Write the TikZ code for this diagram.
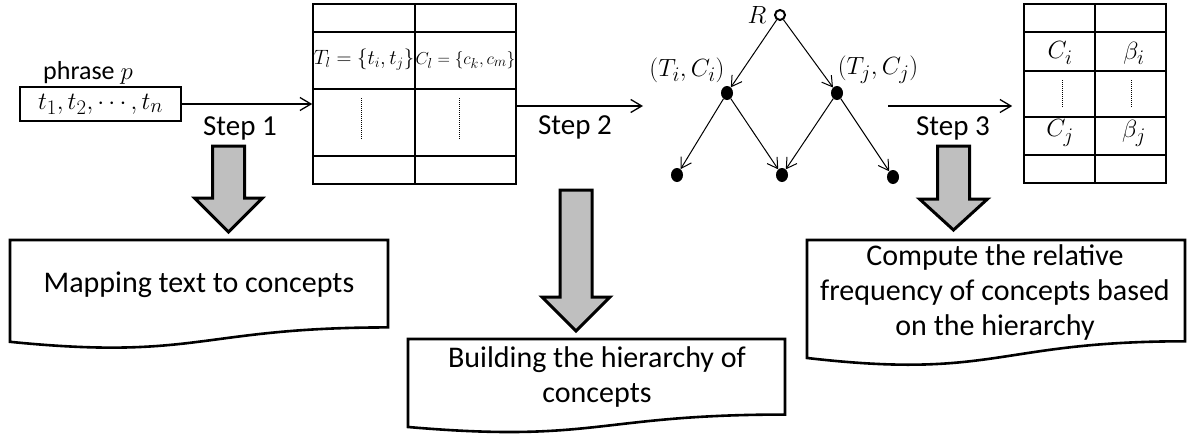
\documentclass[tikz,border=0pt]{standalone}
\usepackage{fontspec}
\setmainfont{Carlito}
\usetikzlibrary{shapes.geometric, arrows.meta, positioning, calc}
\tikzset{
	arr/.style={-{Straight Barb[length=11pt, width=13pt]}, line width=1.3pt},
	treearr/.style={-{Straight Barb[length=10pt, width=12pt]}, line width=1pt},
	tline/.style={line width=1.6pt},
	tabbox/.style={rectangle, draw, line width=1.6pt, inner sep=0pt},
	bigarrow/.style={draw, line width=3pt, fill=gray!50, line join=miter},
	doc/.style={draw, line width=2.6pt, fill=white},
	leaf/.style={ellipse, fill=black, inner sep=0pt, minimum width=12pt, minimum height=14pt}
}

\begin{document}
\begin{tikzpicture}[
        x=1pt, y=-1pt,
        steplabel/.style={font=\fontsize{29}{34}\selectfont},
        doctext/.style={font=\fontsize{30}{35}\selectfont, align=center},
        mathbig/.style={font=\fontsize{30}{34}\selectfont}
    ]
        \useasboundingbox (0,0) rectangle (1194,437);

        % input phrase
        \node[draw, line width=1.5pt, minimum width=161pt, minimum height=34pt, inner sep=0pt, mathbig] (phrase) at (100.5,104) {$t_1, t_2, \cdots, t_n$};
        \node[font=\fontsize{26}{30}\selectfont] (phraselbl) at (88,73) {phrase $p$};

        % first table
        \node[tabbox, minimum width=203pt, minimum height=180pt] (tabA) at (414.5,94) {};
        \foreach \y in {32,89,156}
            \draw[tline] (313,\y) -- (516,\y);
        \draw[tline] (415,4) -- (415,184);
        \node[font=\fontsize{21}{24}\selectfont, inner sep=0pt] (tl) at (364,60) {$T_l = \{t_i, t_j\}$};
        \node[font=\fontsize{19}{22}\selectfont, inner sep=0pt] (cl) at (465.5,60) {$C_l = \{c_k, c_m\}$};
        \draw[densely dotted, line width=1pt] (361,98) -- (361,140);
        \draw[densely dotted, line width=1pt] (459,98) -- (459,140);

        % hierarchy
        \node[circle, draw, line width=2pt, inner sep=0pt, minimum size=10pt] (root) at (780,15) {};
        \node[font=\fontsize{28}{32}\selectfont] (rlbl) at (757,15) {$R$};
        \node[leaf] (ci) at (727,93) {};
        \node[leaf] (cj) at (837,93) {};
        \node[leaf] (la) at (677,175) {};
        \node[leaf] (lb) at (782,175) {};
        \node[leaf] (lc) at (893,177) {};
        \node[mathbig] (cilbl) at (687,70) {$(T_i, C_i)$};
        \node[mathbig] (cjlbl) at (878,70) {$(T_j, C_j)$};
        \draw[treearr] (root) -- (ci);
        \draw[treearr] (root) -- (cj);
        \draw[treearr] (ci) -- (la);
        \draw[treearr] (ci) -- (lb);
        \draw[treearr] (cj) -- (lb);
        \draw[treearr] (cj) -- (lc);

        % second table
        \node[tabbox, minimum width=142pt, minimum height=179pt] (tabB) at (1095,93.5) {};
        \foreach \y in {32,71,117,155}
            \draw[tline] (1024,\y) -- (1166,\y);
        \draw[tline] (1095,4) -- (1095,183);
        \node[mathbig] (cci) at (1060,53) {$C_i$};
        \node[mathbig] (bbi) at (1134,53) {$\beta_i$};
        \node[mathbig] (ccj) at (1060,133) {$C_j$};
        \node[mathbig] (bbj) at (1134,133) {$\beta_j$};
        \draw[densely dotted, line width=1pt] (1062,80) -- (1062,108);
        \draw[densely dotted, line width=1pt] (1131,80) -- (1131,108);

        % steps
        \coordinate (s2end) at (643,106);
        \coordinate (s3start) at (888,106);
        \draw[arr] (phrase.east) -- (tabA.west |- phrase.east);
        \draw[arr] (tabA.east |- s2end) -- (s2end);
        \draw[arr] (s3start) -- ([xshift=-11pt]tabB.west |- s3start);
        \node[steplabel] (step1) at (240,128) {Step 1};
        \node[steplabel] (step2) at (575,127) {Step 2};
        \node[steplabel] (step3) at (953,128) {Step 3};

        % block arrows
        \foreach \cx/\top/\base/\tip in {228.5/146/198/232, 576/190/297/331, 953.5/146/199/230}
            \draw[bigarrow] (\cx-16,\top) -- (\cx+16,\top) -- (\cx+16,\base) -- (\cx+34,\base)
                -- (\cx,\tip) -- (\cx-34,\base) -- (\cx-16,\base) -- cycle;

        % documents
        \foreach \xa/\ya/\w/\h in {10/240/378/109, 408/339/377/94.2, 807/240/378/126.3}
            \draw[doc] (\xa,\ya) -- (\xa+\w,\ya) -- (\xa+\w,\ya+0.802*\h)
                .. controls (\xa+0.5*\w,\ya+0.802*\h) and (\xa+0.5*\w,\ya+1.1075*\h) .. (\xa,\ya+0.934*\h) -- cycle;
        \node[doctext] (map) at (199,285) {Mapping text to concepts};
        \node[doctext] (build) at (597,377) {Building the hierarchy of\\concepts};
        \node[doctext] (freq) at (995,292) {Compute the relative\\frequency of concepts based\\on the hierarchy};
    \end{tikzpicture}
\end{document}
